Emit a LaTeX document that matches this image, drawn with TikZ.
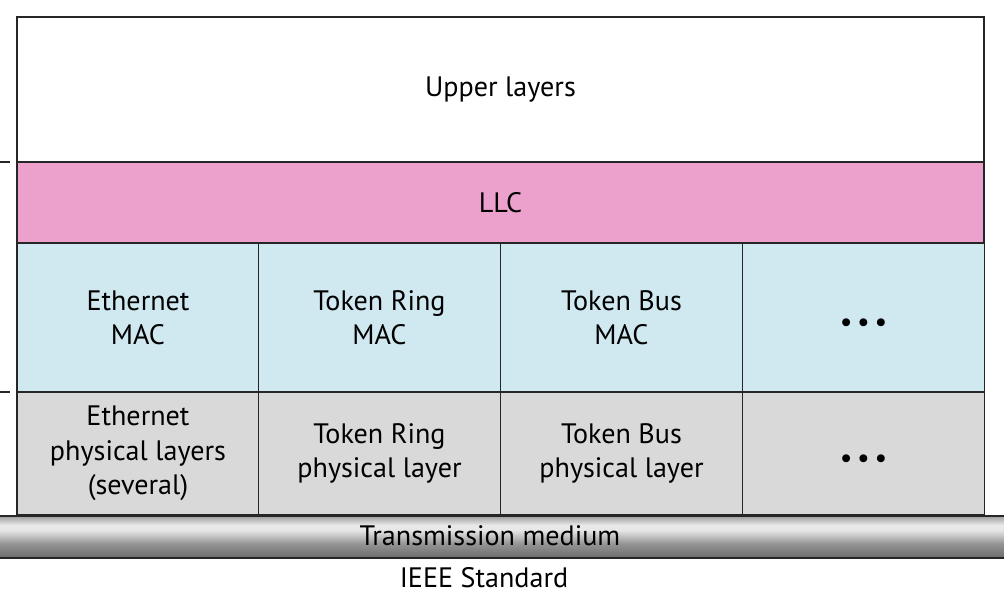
\documentclass[tikz,border=0pt]{standalone}
\usepackage{fontspec}
\setmainfont{PT Sans}
\pgfdeclareverticalshading{tube}{100bp}{color(0bp)=(black!58); color(25bp)=(black!58);
    color(42bp)=(black!42); color(58bp)=(black!10); color(64bp)=(black!8);
    color(75bp)=(black!38); color(100bp)=(black!38)}
\newcommand{\moredots}{\vphantom{Xg}\smash{\raisebox{-4pt}{\textbullet\,\textbullet\,\textbullet}}}
\begin{document}
\begin{tikzpicture}[x=0.02cm, y=-0.02cm,
    layer/.style={draw=black!85, line width=1.1pt, inner sep=0pt, align=center,
        font=\fontsize{16}{19.5}\selectfont},
    col/.style={layer, minimum width=4.84cm},
    mac/.style={col, fill=macblue, minimum height=2.98cm},
    phy/.style={col, fill=phygray, minimum height=2.46cm}]
    \definecolor{llcpink}{RGB}{236,160,204}
    \definecolor{macblue}{RGB}{208,232,240}
    \definecolor{phygray}{RGB}{217,217,217}
    \useasboundingbox (0,0) rectangle (1004,602);
    % upper layers and LLC
    \node [layer, minimum width=19.34cm, minimum height=2.9cm] (upper) at (500.5, 89.5) {Upper layers};
    \node [layer, fill=llcpink, minimum width=19.34cm, minimum height=1.62cm] (llc) at (500.5, 202.5) {LLC};
    % MAC sublayers
    \node [mac] (mac1) at (138, 317.5) {Ethernet\\MAC};
    \node [mac] (mac2) at (379.5, 317.5) {Token Ring\\MAC};
    \node [mac] (mac3) at (621.5, 317.5) {Token Bus\\MAC};
    \node [mac] (mac4) at (863.5, 317.5) {\moredots};
    % physical layers
    \node [phy] (phy1) at (138, 453.5) {Ethernet\\physical layers\\(several)};
    \node [phy] (phy2) at (379.5, 453.5) {Token Ring\\physical layer};
    \node [phy] (phy3) at (621.5, 453.5) {Token Bus\\physical layer};
    \node [phy] (phy4) at (863.5, 453.5) {\moredots};
    % transmission medium
    \shade [shading=tube] (0,516) rectangle (1004,558);
    \draw [line width=1.1pt, black!85] (0,516) -- (1004,516) (0,558) -- (1004,558);
    \node [font=\fontsize{16}{19.5}\selectfont] (medium) at (490, 536) {Transmission medium};
    \node [font=\fontsize{16}{19.5}\selectfont] (ieee) at (484, 578) {IEEE Standard};
    % side ticks
    \draw [line width=1pt, black!85] (0,162) -- (10,162) (0,392) -- (10,392);
\end{tikzpicture}
\end{document}
